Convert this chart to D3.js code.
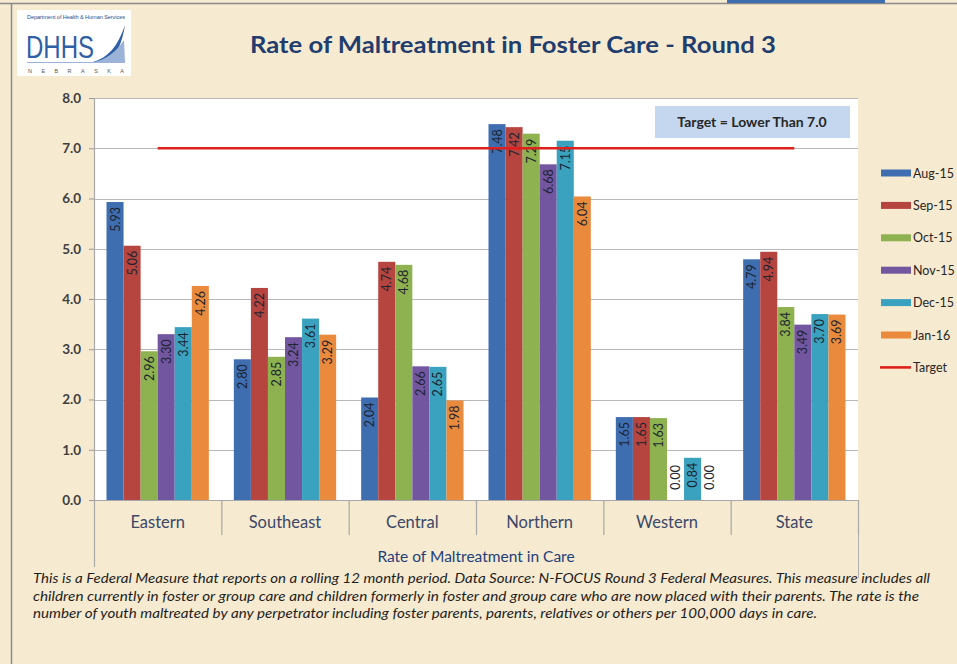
<!DOCTYPE html>
<html>
<head>
<meta charset="utf-8">
<script src="https://cdn.jsdelivr.net/npm/d3@7"></script>
<style>
  html, body { margin: 0; padding: 0; background: #f6ead0; }
  svg { display: block; }
</style>
</head>
<body>
<svg id="chart" width="957" height="664"></svg>
<script>
const categories = ["Eastern", "Southeast", "Central", "Northern", "Western", "State"];
const seriesNames = ["Aug-15", "Sep-15", "Oct-15", "Nov-15", "Dec-15", "Jan-16"];
const aug15 = [5.93, 2.80, 2.04, 7.48, 1.65, 4.79];
const sep15 = [5.06, 4.22, 4.74, 7.42, 1.65, 4.94];
const oct15 = [2.96, 2.85, 4.68, 7.29, 1.63, 3.84];
const nov15 = [3.30, 3.24, 2.66, 6.68, 0.00, 3.49];
const dec15 = [3.44, 3.61, 2.65, 7.15, 0.84, 3.70];
const jan16 = [4.26, 3.29, 1.98, 6.04, 0.00, 3.69];
const targetValue = 7.0;
const yTicks = [0, 1, 2, 3, 4, 5, 6, 7, 8];
const colors = ["#3f6eb0", "#b6443f", "#8db24f", "#7356a0", "#3aa2bf", "#ea8a3c"];

const seriesValues = [aug15, sep15, oct15, nov15, dec15, jan16];

const svg = d3.select("#chart");
const W = 957, H = 664;

// page frame
svg.append("rect").attr("x", 0).attr("y", 0).attr("width", W).attr("height", H).attr("fill", "#f6ead0");
svg.append("line").attr("x1", 0).attr("x2", W).attr("y1", 3.5).attr("y2", 3.5).attr("stroke", "#8a8a8a").attr("stroke-width", 1.5);
svg.append("line").attr("x1", 11.5).attr("x2", 11.5).attr("y1", 3).attr("y2", H).attr("stroke", "#8a8a8a").attr("stroke-width", 1.5);
svg.append("rect").attr("x", 727).attr("y", 0).attr("width", 158).attr("height", 3).attr("fill", "#3e6db0");

// logo
const logo = svg.append("g");
logo.append("rect").attr("x", 17).attr("y", 10).attr("width", 114).attr("height", 66).attr("fill", "#ffffff");
logo.append("text").attr("x", 27).attr("y", 19).attr("font-family", "Arial, sans-serif").attr("font-size", 5.6)
  .attr("fill", "#2c4f8a").attr("textLength", 98).text("Department of Health & Human Services");
logo.append("text").attr("x", 26).attr("y", 58).attr("font-family", "'Liberation Sans', Arial, sans-serif").attr("font-size", 31)
  .attr("fill", "#2f5fa6").attr("textLength", 68).attr("lengthAdjust", "spacingAndGlyphs").text("DHHS");
logo.append("path").attr("d", "M93,62 C108,58 118,46 125,25 C122,44 116,56 108,62 Z").attr("fill", "#2f5fa6");
logo.append("path").attr("d", "M93,62 C106,60 116,52 124,40 L125,62 Z").attr("fill", "#9bb3d9");
logo.append("line").attr("x1", 27).attr("x2", 125).attr("y1", 62.5).attr("y2", 62.5).attr("stroke", "#9bb3d9").attr("stroke-width", 1);
logo.append("text").attr("x", 28).attr("y", 73).attr("font-family", "Arial, sans-serif").attr("font-size", 5.5)
  .attr("fill", "#555").attr("textLength", 96).attr("lengthAdjust", "spacing").text("NEBRASKA");

// title
svg.append("text").attr("x", 513).attr("y", 53).attr("text-anchor", "middle")
  .attr("font-family", "Lato, 'Open Sans', sans-serif").attr("font-weight", "bold").attr("font-size", 23)
  .attr("fill", "#1f3d6e").attr("textLength", 526).attr("lengthAdjust", "spacingAndGlyphs")
  .text("Rate of Maltreatment in Foster Care - Round 3");

// scales
const plot = { left: 94, right: 858, top: 98, bottom: 500 };
const x = d3.scaleBand().domain(categories).range([plot.left, plot.right]).paddingInner(0).paddingOuter(0);
const xs = d3.scaleBand().domain(seriesNames).range([12.5, x.bandwidth() - 12.5]).padding(0);
const y = d3.scaleLinear().domain([0, 8]).range([plot.bottom, plot.top]);

// plot area
svg.append("rect").attr("x", plot.left).attr("y", plot.top).attr("width", plot.right - plot.left)
  .attr("height", plot.bottom - plot.top).attr("fill", "#ffffff");

// gridlines
svg.append("g").selectAll("line").data(yTicks).join("line")
  .attr("x1", plot.left).attr("x2", plot.right)
  .attr("y1", d => Math.round(y(d)) + 0.5).attr("y2", d => Math.round(y(d)) + 0.5)
  .attr("stroke", "#b8b8b8").attr("stroke-width", 1.2);

// y axis
const yAxis = d3.axisLeft(y).tickValues(yTicks).tickFormat(d3.format(".1f")).tickSize(5).tickPadding(8);
const yg = svg.append("g").attr("transform", `translate(${plot.left},0)`).call(yAxis);
yg.select(".domain").remove();
yg.selectAll(".tick line").attr("stroke", "#999");
yg.selectAll(".tick text").attr("font-family", "Lato, 'Open Sans', sans-serif").attr("font-size", 13.5)
  .attr("font-weight", "bold").attr("fill", "#404040");
svg.append("line").attr("x1", plot.left + 0.5).attr("x2", plot.left + 0.5).attr("y1", plot.top).attr("y2", 567)
  .attr("stroke", "#a8a8a8").attr("stroke-width", 1.2);

// category separators
const seps = categories.slice(1).map(c => x(c)).concat([plot.right]);
svg.append("g").selectAll("line").data(seps).join("line")
  .attr("x1", d => d + 0.5).attr("x2", d => d + 0.5).attr("y1", plot.bottom).attr("y2", 535)
  .attr("stroke", "#a8a8a8").attr("stroke-width", 1.2);
svg.append("line").attr("x1", plot.right + 0.5).attr("x2", plot.right + 0.5).attr("y1", 535).attr("y2", 578)
  .attr("stroke", "#b0b0b0").attr("stroke-width", 1);

// bars
const barData = [];
categories.forEach((c, ci) => {
  seriesNames.forEach((s, si) => {
    barData.push({ cat: c, series: s, si: si, value: seriesValues[si][ci] });
  });
});
const bars = svg.append("g");
bars.selectAll("rect").data(barData).join("rect")
  .attr("x", d => x(d.cat) + xs(d.series))
  .attr("y", d => y(d.value))
  .attr("width", xs.bandwidth())
  .attr("height", d => y(0) - y(d.value))
  .attr("fill", d => colors[d.si]);

// axis baseline
svg.append("line").attr("x1", plot.left).attr("x2", plot.right).attr("y1", plot.bottom + 0.5).attr("y2", plot.bottom + 0.5)
  .attr("stroke", "#a8a8a8").attr("stroke-width", 1.2);

// value labels (rotated, reading bottom-to-top, inside end)
const labelLen = 27;
svg.append("g").selectAll("text").data(barData).join("text")
  .attr("transform", d => {
    const cx = x(d.cat) + xs(d.series) + xs.bandwidth() / 2 + 4.5;
    const top = Math.min(y(d.value) + 5, y(0) - 8 - labelLen);
    return `translate(${cx},${top}) rotate(-90)`;
  })
  .attr("text-anchor", "end")
  .attr("font-family", "Lato, 'Open Sans', sans-serif").attr("font-size", 12.5)
  .attr("fill", "#1c2430")
  .text(d => d3.format(".2f")(d.value));

// target line
const tx1 = x(categories[0]) + x.bandwidth() / 2;
const tx2 = x(categories[categories.length - 1]) + x.bandwidth() / 2;
svg.append("line").attr("x1", tx1).attr("x2", tx2).attr("y1", y(targetValue)).attr("y2", y(targetValue))
  .attr("stroke", "#e0201c").attr("stroke-width", 2.6);

// target box
svg.append("rect").attr("x", 655).attr("y", 106).attr("width", 195).attr("height", 32).attr("fill", "#c4d7ee");
svg.append("text").attr("x", 752).attr("y", 127).attr("text-anchor", "middle")
  .attr("font-family", "Lato, 'Open Sans', sans-serif").attr("font-weight", "bold").attr("font-size", 14)
  .attr("fill", "#262626").text("Target = Lower Than " + targetValue.toFixed(1));

// category labels
svg.append("g").selectAll("text").data(categories).join("text")
  .attr("x", d => x(d) + x.bandwidth() / 2).attr("y", 528).attr("text-anchor", "middle")
  .attr("font-family", "Lato, 'Open Sans', sans-serif").attr("font-size", 16.5)
  .attr("fill", "#3b4868").text(d => d);

// x axis title
svg.append("text").attr("x", 476).attr("y", 562).attr("text-anchor", "middle")
  .attr("font-family", "Lato, 'Open Sans', sans-serif").attr("font-size", 15.5)
  .attr("fill", "#24407a").text("Rate of Maltreatment in Care");

// legend
const legendItems = seriesNames.map((s, i) => ({ name: s, color: colors[i], type: "bar" }))
  .concat([{ name: "Target", color: "#e0201c", type: "line" }]);
const lg = svg.append("g");
legendItems.forEach((d, i) => {
  const cy = 173 + i * 32.4;
  if (d.type === "bar") {
    lg.append("rect").attr("x", 881).attr("y", cy - 3.5).attr("width", 30).attr("height", 7).attr("fill", d.color);
  } else {
    lg.append("line").attr("x1", 880).attr("x2", 911).attr("y1", cy).attr("y2", cy).attr("stroke", d.color).attr("stroke-width", 2.6);
  }
  lg.append("text").attr("x", 913).attr("y", cy + 4.5)
    .attr("font-family", "Lato, 'Open Sans', sans-serif").attr("font-size", 12.5)
    .attr("fill", "#262626").text(d.name);
});

// footnote
const footLines = [
  "This is a Federal Measure that reports on a rolling 12 month period. Data Source: N-FOCUS Round 3 Federal Measures. This measure includes all",
  "children currently in foster or group care and children formerly in foster and group care who are now placed with their parents.  The rate is the",
  "number of youth maltreated by any perpetrator including foster parents, parents, relatives or others per 100,000 days in care."
];
const footWidths = [897, 886, 784];
svg.append("g").selectAll("text").data(footLines).join("text")
  .attr("x", 33).attr("y", (d, i) => 583 + i * 17.5)
  .attr("font-family", "Lato, 'Open Sans', sans-serif").attr("font-style", "italic").attr("font-size", 13)
  .attr("fill", "#1e1e1e")
  .attr("textLength", (d, i) => footWidths[i]).attr("lengthAdjust", "spacingAndGlyphs")
  .text(d => d);
</script>
</body>
</html>
